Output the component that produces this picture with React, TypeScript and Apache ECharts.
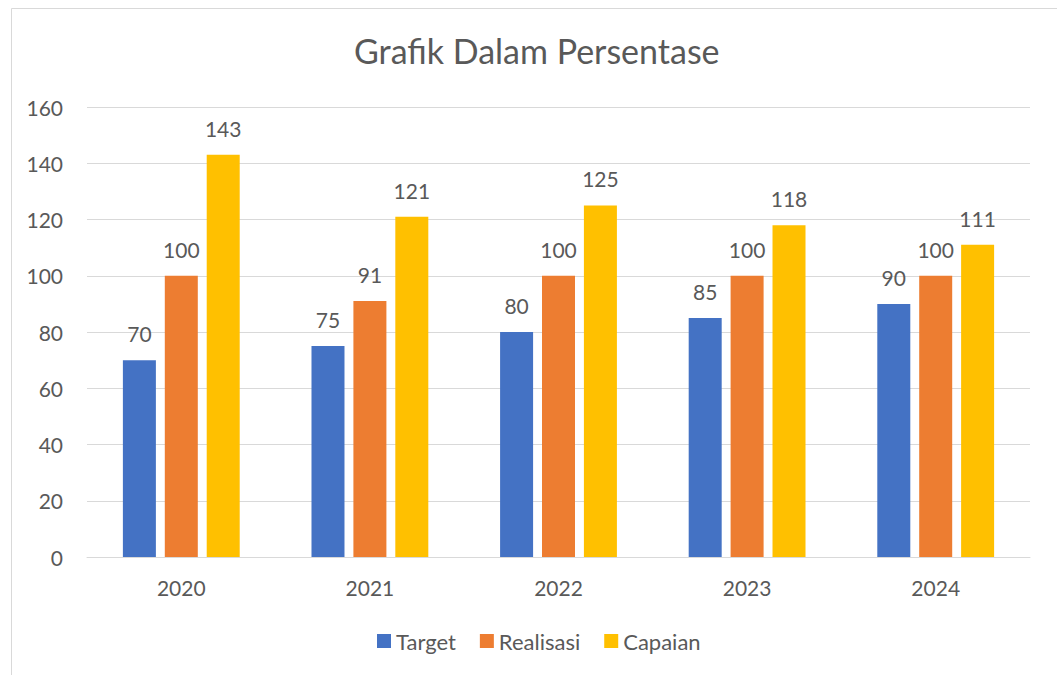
import React, { useEffect, useRef } from "react";
import * as echarts from "echarts";

const categories = ["2020", "2021", "2022", "2023", "2024"];
const target = [70, 75, 80, 85, 90];
const realisasi = [100, 91, 100, 100, 100];
const capaian = [143, 121, 125, 118, 111];
const seriesNames = ["Target", "Realisasi", "Capaian"];
const colors = ["#4472C4", "#ED7D31", "#FFC000"];

export default function App() {
  const ref = useRef<HTMLDivElement>(null);
  useEffect(() => {
    if (!ref.current) return;
    const chart = echarts.init(ref.current, undefined, { renderer: "svg" });
    const font = "Lato, 'Open Sans', sans-serif";
    const text = "#595959";
    const mk = (name: string, data: number[], color: string) => ({
      name,
      type: "bar",
      data,
      barWidth: 33,
      barGap: "27%",
      itemStyle: { color },
      label: {
        show: true,
        position: "top",
        distance: 16,
        color: text,
        fontFamily: font,
        fontSize: 21,
      },
    });
    chart.setOption({
      animation: false,
      textStyle: { fontFamily: font },
      graphic: [
        {
          type: "rect",
          shape: { x: 11.5, y: 8.5, width: 1100, height: 700 },
          style: { fill: "none", stroke: "#D9D9D9", lineWidth: 1 },
          silent: true,
        },
      ],
      title: {
        text: "Grafik Dalam Persentase",
        left: 349,
        top: 28,
        textStyle: { color: text, fontFamily: font, fontSize: 34, fontWeight: "normal" },
      },
      legend: {
        data: seriesNames,
        bottom: 18,
        left: 372,
        icon: "rect",
        itemWidth: 14,
        itemHeight: 14,
        itemGap: 24,
        textStyle: { color: text, fontFamily: font, fontSize: 22 },
      },
      grid: { left: 87, right: 27, top: 107, bottom: 118, containLabel: false },
      xAxis: {
        type: "category",
        data: categories,
        axisLine: { lineStyle: { color: "#D9D9D9", width: 1 } },
        axisTick: { show: false },
        axisLabel: { color: text, fontFamily: font, fontSize: 21, margin: 20 },
      },
      yAxis: {
        type: "value",
        min: 0,
        max: 160,
        interval: 20,
        axisLine: { show: false },
        axisTick: { show: false },
        splitLine: { lineStyle: { color: "#D9D9D9", width: 1 } },
        axisLabel: { color: text, fontFamily: font, fontSize: 21, margin: 24 },
      },
      series: [
        mk(seriesNames[0], target, colors[0]),
        mk(seriesNames[1], realisasi, colors[1]),
        mk(seriesNames[2], capaian, colors[2]),
      ],
    });
    return () => chart.dispose();
  }, []);
  return (
    <div
      ref={ref}
      style={{ position: "fixed", left: 0, top: 0, width: 1057, height: 675, background: "#fff" }}
    />
  );
}
